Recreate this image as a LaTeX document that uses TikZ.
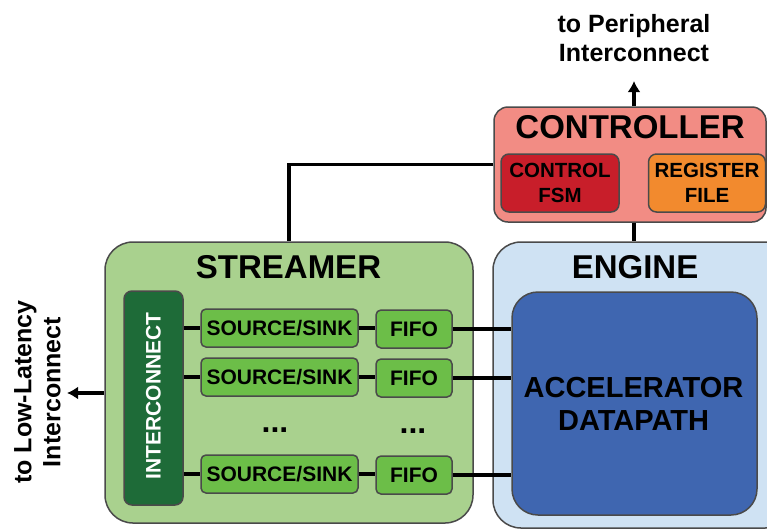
\documentclass[tikz,border=0pt]{standalone}
\usepackage{fontspec}
\setmainfont{Liberation Sans}
\usetikzlibrary{arrows.meta}
\definecolor{ctrlfill}{HTML}{F28C84}
\definecolor{fsmfill}{HTML}{C81E2A}
\definecolor{regfill}{HTML}{F28A2E}
\definecolor{strfill}{HTML}{A9D18E}
\definecolor{ssfill}{HTML}{6CBE48}
\definecolor{icfill}{HTML}{1E6B38}
\definecolor{engfill}{HTML}{CFE2F3}
\definecolor{dpfill}{HTML}{3F66B0}
\definecolor{edge}{HTML}{4A4A4A}
\tikzset{
  blk/.style={draw=edge, line width=1.5pt, inner sep=0pt, rectangle},
  big/.style={font=\fontsize{33}{35}\selectfont\bfseries, inner sep=0pt},
  small/.style={font=\fontsize{21}{23}\selectfont\bfseries},
  sub/.style={font=\fontsize{20.5}{25}\selectfont\bfseries, align=center},
  ext/.style={font=\fontsize{25}{29}\selectfont\bfseries, align=center, inner sep=0pt},
  wire/.style={line width=3.4pt, black},
  arr/.style={line width=3.4pt, -{Latex[length=11pt,width=13pt]}}
}
\begin{document}
\begin{tikzpicture}[x=1pt,y=-1pt]
\useasboundingbox (0,0) rectangle (767,531);
\clip (0,0) rectangle (767,531);
% Controller
\node[blk, fill=ctrlfill, rounded corners=14pt, minimum width=272pt, minimum height=115pt] (ctrl) at (630,164.5) {};
\node[big] (ctrlt) at (630,127.5) {CONTROLLER};
\node[blk, fill=fsmfill, rounded corners=8pt, minimum width=118pt, minimum height=58pt, sub] (fsm) at (560,183) {CONTROL\\FSM};
\node[blk, fill=regfill, rounded corners=8pt, minimum width=117pt, minimum height=58pt, sub] (reg) at (707,183) {REGISTER\\FILE};
\coordinate (cx) at (634,0);
\coordinate (periph) at (634,81);
\node[ext] (periphtxt) at (634,38) {to Peripheral\\Interconnect};
% Engine
\node[blk, fill=engfill, rounded corners=28pt, minimum width=300pt, minimum height=286pt] (eng) at (643,385) {};
\node[big] (engt) at (635,267) {ENGINE};
\node[blk, fill=dpfill, rounded corners=26pt, minimum width=245pt, minimum height=223pt] (dp) at (634.5,403.5) {};
\node[font=\fontsize{29}{33}\selectfont\bfseries, align=center] (dpt) at (633.5,404) {ACCELERATOR\\DATAPATH};
% Streamer
\node[blk, fill=strfill, rounded corners=28pt, minimum width=368pt, minimum height=281pt] (str) at (289,382.5) {};
\node[big] (strt) at (288.5,267) {STREAMER};
\node[blk, fill=icfill, rounded corners=8pt, minimum width=59pt, minimum height=214pt] (ic) at (153.5,398) {};
\node[rotate=90, text=white, small] (ict) at (153.5,396) {INTERCONNECT};
\foreach \i/\y in {1/328,2/377,3/474}{
  \node[blk, fill=ssfill, rounded corners=5pt, minimum width=157pt, minimum height=38pt, small] (ss\i) at (279.5,\y) {SOURCE/SINK};
  \node[blk, fill=ssfill, rounded corners=5pt, minimum width=76pt, minimum height=38pt, small] (ff\i) at (414,\y+1) {FIFO};
  \draw[wire] (ic.east |- ss\i) -- (ss\i.west);
  \draw[wire] (ss\i.east) -- (ss\i.east -| ff\i.west);
  \draw[wire] (ff\i.east) -- (ff\i.east -| dp.west);
}
\node[font=\fontsize{32}{34}\selectfont\bfseries] (dots1) at (275,430) {...};
\node[font=\fontsize{32}{34}\selectfont\bfseries] (dots2) at (413,431) {...};
% Connectors
\draw[arr] (ctrl.north -| cx) -- (periph);
\draw[wire] (ctrl.south -| cx) -- (eng.north -| cx);
\draw[wire] (ctrl.west) -- (ctrl.west -| str.north) -- (str.north);
\coordinate (lowlat) at (67,393);
\draw[arr] (lowlat -| str.west) -- (lowlat);
\node[ext, rotate=90] (lowtxt) at (37.5,392) {to Low-Latency\\Interconnect};
\end{tikzpicture}
\end{document}
